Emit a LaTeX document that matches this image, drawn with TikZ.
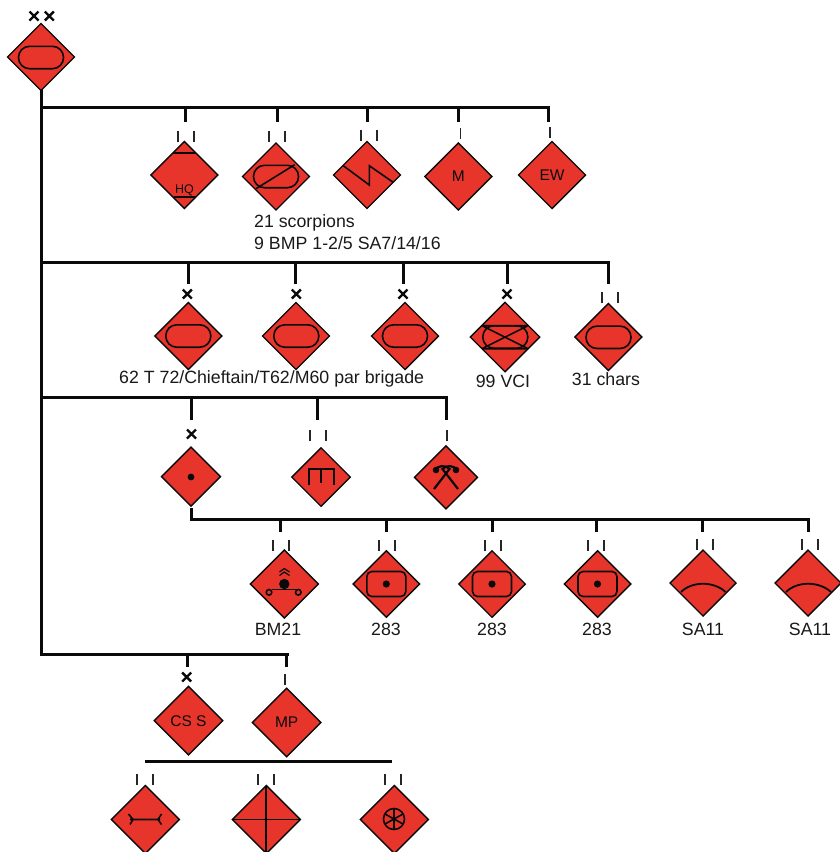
\documentclass[tikz,border=0pt]{standalone}
\usepackage{fontspec}
\setmainfont{Liberation Sans}
\usetikzlibrary{shapes.geometric,calc}
\definecolor{armyred}{HTML}{E7352C}
\definecolor{inkblack}{HTML}{0A0A0A}
\tikzset{
  x=1pt,y=-1pt,
  dia/.style={diamond,aspect=1,draw=inkblack,line width=1.4pt,fill=armyred,inner sep=0pt,outer sep=0pt,font=\fontsize{15.5}{17}\selectfont,text=inkblack},
  bus/.style={draw=inkblack,line width=3pt,line cap=rect},
  bar/.style={draw=inkblack,line width=3pt},
  tick/.style={draw=black!85,line width=1.8pt},
  xmark/.style={draw=inkblack,line width=2.4pt},
  sym/.style={draw=inkblack,line width=1.6pt},
  lab/.style={font=\fontsize{17.75}{20}\selectfont,text=black!90,inner sep=0pt,align=left}
}
\newcommand{\twoticks}[2]{\draw[tick] (#1-8,#2) -- ++(0,-11) (#1+8,#2) -- ++(0,-11);}
\newcommand{\onetick}[2]{\draw[tick] (#1,#2) -- ++(0,-11);}
\newcommand{\xsign}[2]{\draw[xmark] (#1-4.5,#2-4.5) -- (#1+4.5,#2+4.5) (#1-4.5,#2+4.5) -- (#1+4.5,#2-4.5);}
\newcommand{\pill}[2]{\draw[sym,rounded corners=11pt] (#1-22.5,#2-11.2) rectangle (#1+22.5,#2+11.2);}
\newcommand{\rbox}[2]{\draw[sym,rounded corners=5pt] (#1-19.5,#2-12.5) rectangle (#1+19.5,#2+12.5);\fill[inkblack] (#1,#2) circle (3.6);}
\newcommand{\dianode}[5]{\node[dia,minimum size=#4] (#1) at (#2,#3) {#5};}
\begin{document}
\begin{tikzpicture}
\useasboundingbox (0,0) rectangle (840,852);
% diamonds
\dianode{top}{41}{57}{67}{}
\dianode{hq}{184.3}{175}{67}{}
\dianode{rec}{276}{176.5}{67}{}
\dianode{zig}{367}{175}{67}{}
\dianode{mm}{458.3}{176.5}{67}{M}
\dianode{ew}{552}{175}{67}{EW}
\dianode{ba}{188.3}{336}{67}{}
\dianode{bb}{296}{336}{67}{}
\dianode{bc}{405}{336}{67}{}
\dianode{bd}{505}{337}{69.5}{}
\dianode{be}{608.3}{337}{67}{}
\dianode{ca}{191}{476.7}{59}{}
\dianode{cb}{321}{477}{58.5}{}
\dianode{cc}{446}{477.3}{63}{}
\dianode{da}{284.3}{584}{68}{}
\dianode{db}{386.3}{584}{66.5}{}
\dianode{dc}{492}{584}{66.5}{}
\dianode{dd}{597.7}{584}{66.5}{}
\dianode{de}{703}{583}{66}{}
\dianode{df}{808}{583}{66}{}
\dianode{ea}{188.5}{720.7}{68.5}{CS S}
\dianode{eb}{286.7}{722.5}{68.5}{MP}
\dianode{fa}{145.3}{819.5}{68}{}
\dianode{fb}{266.3}{819.5}{68}{}
\dianode{fc}{394.3}{819.5}{68}{}
% junctions
\coordinate (t1) at (41,107);
\coordinate (t2) at (41,262);
\coordinate (t3) at (41,397);
\coordinate (t4) at (41,654);
\coordinate (r1) at (548,107);
\coordinate (r2) at (608.5,262);
\coordinate (r3) at (446,397);
\coordinate (r5) at (287,654);
% main trunk and first buses
\draw[bus] (top.south) -- (t4) -- (r5);
\draw[bus] (t1) -- (r1);
\draw[bus] (t2) -- (r2);
\draw[bus] (t3) -- (r3);
% drops row 1
\foreach \n/\xx in {a/185.5,b/277,c/367,d/458.3,e/548}{
  \coordinate (pa\n) at (\xx,107);
  \coordinate (qa\n) at (\xx,121.7);
  \draw[bar] (pa\n) -- (qa\n);
}
% drops row 2
\foreach \n/\xx in {a/188,b/295.7,c/403.3,d/507.5,e/608.5}{
  \coordinate (pb\n) at (\xx,262);
  \coordinate (qb\n) at (\xx,283.5);
  \draw[bar] (pb\n) -- (qb\n);
}
% drops row 3
\foreach \n/\xx in {a/191.5,b/317,c/446}{
  \coordinate (pc\n) at (\xx,397);
  \coordinate (qc\n) at (\xx,420);
  \draw[bar] (pc\n) -- (qc\n);
}
% bus row 4
\coordinate (h0) at (191,519);
\coordinate (h1) at (808.3,519);
\coordinate (h2) at (808.3,532);
\draw[bus,line cap=butt] ($(ca.south)+(0,2)$) -- (h0) -- (h1) -- (h2);
\foreach \n/\xx in {a/280.3,b/386.7,c/492,d/596.7,e/702.7}{
  \coordinate (pd\n) at (\xx,519);
  \coordinate (qd\n) at (\xx,532);
  \draw[bar] (pd\n) -- (qd\n);
}
% drops row 5
\foreach \n/\xx in {a/187.7,b/286.7}{
  \coordinate (pe\n) at (\xx,654);
  \coordinate (qe\n) at (\xx,667);
  \draw[bar] (pe\n) -- (qe\n);
}
% bar row 6
\coordinate (m0) at (145.3,761.3);
\coordinate (m1) at (391.7,761.3);
\draw[inkblack,line width=3pt] (m0) -- (m1);
% ticks
\xsign{34}{16}\xsign{49.3}{16}
\twoticks{186.2}{142}\twoticks{277.3}{142}\twoticks{369}{141}
\onetick{460.5}{138.5}\onetick{550}{138}
\xsign{187.3}{294}\xsign{296.3}{294}\xsign{403}{294}\xsign{507}{294}
\twoticks{610.3}{303.3}
\xsign{191.5}{434}\twoticks{318}{441}\onetick{447}{441}
\twoticks{281.3}{551}\twoticks{387.3}{551}\twoticks{493}{551}\twoticks{596}{551}\twoticks{704.7}{550}\twoticks{810}{550}
\xsign{186.7}{677}\onetick{285.3}{685}
\twoticks{144.7}{785}\twoticks{265.7}{785}\twoticks{393.3}{785}
% symbols
\pill{41}{57.5}
\draw[sym] (173.3,153) -- (195.3,153) (174,197) -- (195,197);
\node[font=\fontsize{12.5}{15}\selectfont,text=inkblack,inner sep=0pt] (hqt) at (184.5,190) {HQ};
\pill{276}{176.5}
\draw[sym] (256,188.7) -- (294.7,164.7);
\draw[sym,line join=miter] (343.3,165.7) -- (369.3,185) -- (369.3,165.7) -- (392.7,182);
\pill{188.3}{336}\pill{296.3}{336}\pill{405}{336}\pill{608.5}{337.3}
\pill{505.3}{337}
\draw[sym] (482,325.7) -- (528,325.7) (482,348.7) -- (528,348.7) (482,325.7) -- (528,348.7) (482,348.7) -- (528,325.7);
\fill[inkblack] (191,477) circle (3.4);
\draw[sym,line width=1.9pt] (309,485) -- (309,469) -- (333.7,469) -- (333.7,485) (321.3,469) -- (321.3,483.3);
% crossed picks
\draw[inkblack,line width=2.2pt] (434,489) -- (449.5,469) .. controls (446,465) and (438,465) .. (435,470);
\draw[inkblack,line width=2.2pt] (458,489) -- (442.5,469) .. controls (446,465) and (454,465) .. (457,470);
\fill[inkblack] (436,470) circle (3.3) (456,470) circle (3.3);
% rocket launcher
\fill[inkblack] (284.3,584) circle (5.2);
\draw[sym] (271.7,589.3) -- (297,589.3);
\draw[sym] (269,592.3) circle (2.8) (298.3,592.3) circle (2.8);
\draw[sym,line width=1.2pt] (279.5,572) -- (284.3,568.5) -- (289.5,572) (279.5,575.5) -- (284.3,572) -- (289.5,575.5);
% lab
\node[lab,anchor=west] (l1) at (254,222.5) {21 scorpions};
\node[lab,anchor=west] (l2) at (254,243.5) {9 BMP 1-2/5 SA7/14/16};
\node[lab,anchor=west] (l3) at (119,379) {62 T 72/Chieftain/T62/M60 par brigade};
\node[lab] (l4) at (503,381) {99 VCI};
\node[lab] (l5) at (606,379) {31 chars};
\node[lab] (l6) at (278,629) {BM21};
\node[lab] (l7) at (386,629) {283};\node[lab] (l8) at (492,629) {283};\node[lab] (l9) at (597,629) {283};
\node[lab] (l10) at (703,629) {SA11};\node[lab] (l11) at (810,629) {SA11};
% rbox
\rbox{386.3}{584}\rbox{492}{584}\rbox{597.5}{584}
% arcs
\draw[sym,line width=1.8pt] (681,592) .. controls (692,581) and (714,581) .. (725.5,592);
\draw[sym,line width=1.8pt] (786,592) .. controls (797,581) and (819,581) .. (831,592);
% row 6 symbols
\draw[sym] (130,819.5) -- (160,819.5) (128.5,814) -- (133,819.5) -- (130,824.5) (161.5,814) -- (158,819.5) -- (161.5,824.5);
\draw[sym,line width=1.9pt,draw=black] (fb.north) -- (fb.south) (fb.west) -- (fb.east);
\draw[sym] (394,819) circle (10.5);
\draw[sym] (394,808.5) -- (394,829.5) (385,814) -- (403,824) (385,824) -- (403,814);
\end{tikzpicture}
\end{document}
